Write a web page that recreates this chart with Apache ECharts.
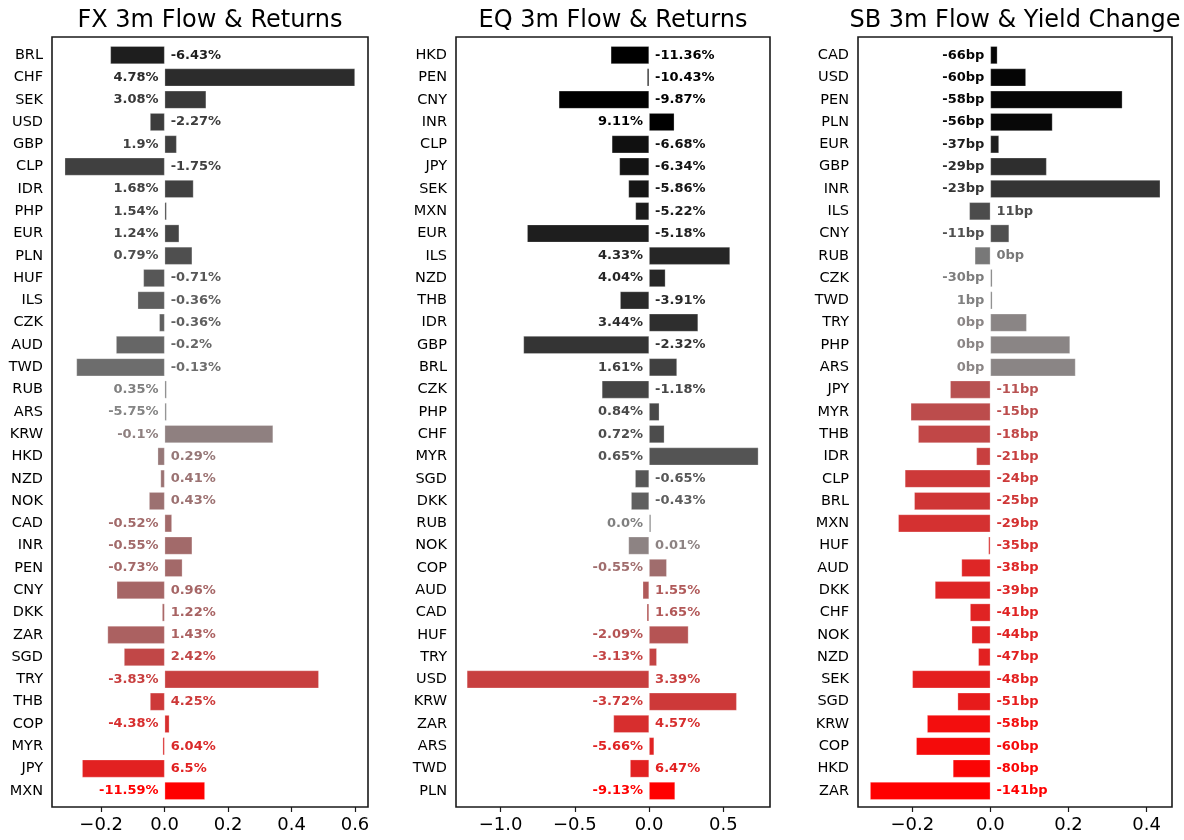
<!DOCTYPE html>
<html>
<head>
<meta charset="utf-8">
<script src="https://cdn.jsdelivr.net/npm/echarts@6/dist/echarts.min.js"></script>
<style>
  html, body { margin: 0; padding: 0; background: #fff; }
  #chart { width: 1184px; height: 840px; }
</style>
</head>
<body>
<div id="chart"></div>
<script>
// FX panel
const fxCurrencies = ['BRL', 'CHF', 'SEK', 'USD', 'GBP', 'CLP', 'IDR', 'PHP', 'EUR', 'PLN', 'HUF', 'ILS',
  'CZK', 'AUD', 'TWD', 'RUB', 'ARS', 'KRW', 'HKD', 'NZD', 'NOK', 'CAD', 'INR', 'PEN', 'CNY', 'DKK', 'ZAR',
  'SGD', 'TRY', 'THB', 'COP', 'MYR', 'JPY', 'MXN'];
const fxFlow = [-0.171, 0.600, 0.131, -0.046, 0.038, -0.315, 0.091, 0.004, 0.046, 0.087, -0.067, -0.085,
  -0.017, -0.153, -0.278, 0.002, 0.001, 0.342, -0.022, -0.013, -0.049, 0.023, 0.087, 0.056, -0.151, -0.008,
  -0.180, -0.128, 0.486, -0.046, 0.015, -0.003, -0.260, 0.127];
const fxReturns = ['-6.43%', '4.78%', '3.08%', '-2.27%', '1.9%', '-1.75%', '1.68%', '1.54%', '1.24%', '0.79%',
  '-0.71%', '-0.36%', '-0.36%', '-0.2%', '-0.13%', '0.35%', '-5.75%', '-0.1%', '0.29%', '0.41%', '0.43%',
  '-0.52%', '-0.55%', '-0.73%', '0.96%', '1.22%', '1.43%', '2.42%', '-3.83%', '4.25%', '-4.38%', '6.04%',
  '6.5%', '-11.59%'];

// EQ panel
const eqCurrencies = ['HKD', 'PEN', 'CNY', 'INR', 'CLP', 'JPY', 'SEK', 'MXN', 'EUR', 'ILS', 'NZD', 'THB',
  'IDR', 'GBP', 'BRL', 'CZK', 'PHP', 'CHF', 'MYR', 'SGD', 'DKK', 'RUB', 'NOK', 'COP', 'AUD', 'CAD', 'HUF',
  'TRY', 'USD', 'KRW', 'ZAR', 'ARS', 'TWD', 'PLN'];
const eqFlow = [-0.258, -0.003, -0.608, 0.170, -0.251, -0.200, -0.139, -0.092, -0.821, 0.545, 0.110, -0.195,
  0.330, -0.846, 0.188, -0.318, 0.069, 0.103, 0.736, -0.094, -0.121, 0.002, -0.139, 0.119, -0.043, -0.016,
  0.265, 0.052, -1.227, 0.590, -0.240, 0.034, -0.128, 0.175];
const eqReturns = ['-11.36%', '-10.43%', '-9.87%', '9.11%', '-6.68%', '-6.34%', '-5.86%', '-5.22%', '-5.18%',
  '4.33%', '4.04%', '-3.91%', '3.44%', '-2.32%', '1.61%', '-1.18%', '0.84%', '0.72%', '0.65%', '-0.65%',
  '-0.43%', '0.0%', '0.01%', '-0.55%', '1.55%', '1.65%', '-2.09%', '-3.13%', '3.39%', '-3.72%', '4.57%',
  '-5.66%', '6.47%', '-9.13%'];

// SB panel
const sbCurrencies = ['CAD', 'USD', 'PEN', 'PLN', 'EUR', 'GBP', 'INR', 'ILS', 'CNY', 'RUB', 'CZK', 'TWD',
  'TRY', 'PHP', 'ARS', 'JPY', 'MYR', 'THB', 'IDR', 'CLP', 'BRL', 'MXN', 'HUF', 'AUD', 'DKK', 'CHF', 'NOK',
  'NZD', 'SEK', 'SGD', 'KRW', 'COP', 'HKD', 'ZAR'];
const sbFlow = [0.018, 0.091, 0.338, 0.159, 0.022, 0.144, 0.435, -0.054, 0.048, -0.040, 0.001, 0.001,
  0.093, 0.204, 0.218, -0.103, -0.204, -0.185, -0.036, -0.219, -0.195, -0.236, -0.003, -0.074, -0.142,
  -0.052, -0.048, -0.031, -0.200, -0.084, -0.162, -0.190, -0.096, -0.308];
const sbYieldBp = [-66, -60, -58, -56, -37, -29, -23, 11, -11, 0, -30, 1, 0, 0, 0, -11, -15, -18, -21, -24,
  -25, -29, -35, -38, -39, -41, -44, -47, -48, -51, -58, -60, -80, -141];

// x ticks
const fxTicks = [-0.2, 0.0, 0.2, 0.4, 0.6];
const eqTicks = [-1.0, -0.5, 0.0, 0.5];
const sbTicks = [-0.2, 0.0, 0.2, 0.4];

// colour position of each row on the black -> grey -> red scale
const fxShade = [0.11, 0.16, 0.21, 0.22, 0.23, 0.235, 0.24, 0.25, 0.255, 0.29, 0.32, 0.345, 0.35, 0.375,
  0.40, 0.47, 0.49, 0.53, 0.56, 0.58, 0.585, 0.61, 0.61, 0.615, 0.625, 0.635, 0.645, 0.74, 0.77, 0.79,
  0.83, 0.845, 0.88, 1.0];
const eqShade = [0, 0, 0, 0, 0.06, 0.07, 0.08, 0.1, 0.11, 0.14, 0.14, 0.155, 0.17, 0.19, 0.235, 0.255,
  0.27, 0.28, 0.31, 0.32, 0.35, 0.47, 0.52, 0.6, 0.67, 0.675, 0.69, 0.75, 0.77, 0.79, 0.83, 0.87, 0.88, 1.0];
const sbShade = [0.02, 0.02, 0.025, 0.03, 0.11, 0.17, 0.19, 0.28, 0.29, 0.44, 0.46, 0.47, 0.51, 0.51,
  0.51, 0.7, 0.72, 0.74, 0.77, 0.79, 0.8, 0.82, 0.83, 0.86, 0.86, 0.87, 0.87, 0.88, 0.885, 0.9, 0.95,
  0.96, 0.98, 1.0];

const FONT = 'DejaVu Sans';
const MID = [136, 136, 136];

// black -> grey -> red
function shadeColor(t) {
  let rgb;
  if (t <= 0.5) {
    const s = t / 0.5;
    rgb = MID.map(c => c * s);
  } else {
    const s = (t - 0.5) / 0.5;
    rgb = [MID[0] + (255 - MID[0]) * s, MID[1] * (1 - s), MID[2] * (1 - s)];
  }
  return 'rgb(' + rgb.map(c => Math.round(c)).join(',') + ')';
}

const fmtTick = v => (v < 0 ? '\u2212' : '') + Math.abs(v).toFixed(1);

// panel boxes (matplotlib axes)
const panels = [
  { title: 'FX 3m Flow & Returns', left: 52, right: 368, min: -0.355, max: 0.641,
    cats: fxCurrencies, flow: fxFlow, labels: fxReturns, shade: fxShade, ticks: fxTicks },
  { title: 'EQ 3m Flow & Returns', left: 456, right: 770, min: -1.30, max: 0.814,
    cats: eqCurrencies, flow: eqFlow, labels: eqReturns, shade: eqShade, ticks: eqTicks },
  { title: 'SB 3m Flow & Yield Change', left: 858, right: 1172, min: -0.339, max: 0.465,
    cats: sbCurrencies, flow: sbFlow, labels: sbYieldBp.map(v => v + 'bp'), shade: sbShade, ticks: sbTicks }
];

const FRAME_TOP = 37, FRAME_H = 770;
const ROW_TOP = 44, ROW_H = 758;

const grid = [], xAxis = [], yAxis = [], series = [], graphic = [];

panels.forEach((p, i) => {
  const w = p.right - p.left;
  // frame grid
  grid.push({ left: p.left, top: FRAME_TOP, width: w, height: FRAME_H, show: true,
    borderColor: '#1a1a1a', borderWidth: 1.6, backgroundColor: 'transparent' });
  // bars grid
  grid.push({ left: p.left, top: ROW_TOP, width: w, height: ROW_H });

  xAxis.push({ gridIndex: 2 * i, type: 'value', show: false, min: 0, max: 1 });
  yAxis.push({ gridIndex: 2 * i, type: 'value', show: false, min: 0, max: 1 });

  xAxis.push({
    gridIndex: 2 * i + 1,
    type: 'value',
    min: p.min,
    max: p.max,
    position: 'bottom',
    offset: FRAME_TOP + FRAME_H - (ROW_TOP + ROW_H),
    axisLine: { show: false },
    splitLine: { show: false },
    axisTick: { show: true, length: 5, customValues: p.ticks, lineStyle: { color: '#1a1a1a', width: 1.2 } },
    axisLabel: { customValues: p.ticks, formatter: fmtTick, fontFamily: FONT, fontSize: 18,
      color: '#000', margin: 9 }
  });
  yAxis.push({
    gridIndex: 2 * i + 1,
    type: 'category',
    inverse: true,
    data: p.cats,
    axisLine: { show: false },
    axisTick: { show: false },
    axisLabel: { fontFamily: FONT, fontSize: 14.5, color: '#000', margin: 9 }
  });

  series.push({
    type: 'bar',
    xAxisIndex: 2 * i + 1,
    yAxisIndex: 2 * i + 1,
    barCategoryGap: '20%',
    barMinHeight: 2,
    silent: true,
    data: p.flow.map((v, k) => {
      const c = shadeColor(p.shade[k]);
      return {
        value: v,
        itemStyle: { color: c, borderColor: 'rgba(255,255,255,0.45)', borderWidth: 0.6 },
        label: {
          show: true,
          position: v >= 0 ? 'left' : 'right',
          distance: 6,
          formatter: p.labels[k],
          color: c,
          fontFamily: FONT,
          fontWeight: 'bold',
          fontSize: 13
        }
      };
    })
  });

  graphic.push({
    type: 'text',
    x: p.left + w / 2,
    y: 21,
    style: { text: p.title, fill: '#000', font: '24px "' + FONT + '"',
      align: 'center', verticalAlign: 'middle' }
  });
});

const chart = echarts.init(document.getElementById('chart'), null, { renderer: 'canvas' });
chart.setOption({
  animation: false,
  backgroundColor: '#fff',
  grid,
  xAxis,
  yAxis,
  series,
  graphic
});
</script>
</body>
</html>
